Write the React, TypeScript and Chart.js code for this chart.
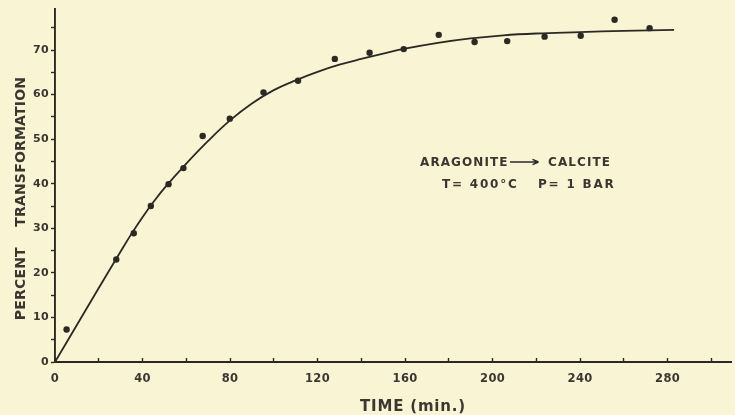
import React, { useEffect, useRef } from "react";
import { Chart, registerables } from "chart.js";

Chart.register(...registerables);

// Measured points (time in min, percent transformation)
const pointTimes = [5.3, 28, 36, 43.8, 51.9, 58.7, 67.5, 79.9, 95.3, 111.1, 127.9, 143.8, 159.4, 175.4, 191.8, 206.7, 223.8, 240.3, 255.8, 271.8];
const pointPercents = [7.3, 23.0, 28.9, 35.0, 39.9, 43.5, 50.7, 54.6, 60.5, 63.1, 68.0, 69.4, 70.2, 73.4, 71.8, 72.0, 73.0, 73.2, 76.8, 74.9];

// Drawn smooth curve
const curveTimes = [0, 10, 20, 30, 35, 40, 45, 50, 60, 70, 80, 90, 100, 110, 120, 130, 140, 150, 160, 175, 190, 205, 220, 240, 260, 283];
const curvePercents = [0, 8.3, 16.6, 24.8, 28.8, 32.5, 35.9, 39.0, 44.5, 49.6, 54.2, 58.0, 61.0, 63.2, 65.1, 66.7, 68.0, 69.2, 70.3, 71.6, 72.6, 73.3, 73.7, 74.0, 74.3, 74.5];

const xLabelTicks = [0, 40, 80, 120, 160, 200, 240, 280];
const yLabelTicks = [0, 10, 20, 30, 40, 50, 60, 70];

const xAxisTitle = "TIME (min.)";
const yAxisTitle = "PERCENT    TRANSFORMATION";
const noteReactant = "ARAGONITE";
const noteProduct = "CALCITE";
const noteTemp = "T= 400°C";
const notePressure = "P= 1 BAR";

const PAPER = "#f9f4d4";
const INK = "#2b2924";
const TEXT = "#3b3630";
const FONT = "'DejaVu Sans', sans-serif";

const paperPlugin = {
  id: "paper",
  beforeDraw(chart: any) {
    const ctx = chart.ctx;
    ctx.save();
    ctx.fillStyle = PAPER;
    ctx.fillRect(0, 0, chart.width, chart.height);
    ctx.restore();
    ctx.letterSpacing = "0.3px";
  },
  afterDraw(chart: any) {
    const ctx = chart.ctx;
    ctx.save();
    ctx.fillStyle = TEXT;
    ctx.strokeStyle = INK;

    // y axis title
    ctx.save();
    ctx.letterSpacing = "0.2px";
    ctx.font = `bold 14px ${FONT}`;
    ctx.textAlign = "center";
    ctx.textBaseline = "alphabetic";
    ctx.translate(24.5, 198.5);
    ctx.rotate(-Math.PI / 2);
    ctx.fillText(yAxisTitle, 0, 0);
    ctx.restore();

    // x axis title
    ctx.save();
    ctx.letterSpacing = "0.8px";
    ctx.font = `bold 15px ${FONT}`;
    ctx.textAlign = "center";
    ctx.textBaseline = "alphabetic";
    ctx.fillText(xAxisTitle, 413, 411);
    ctx.restore();

    // annotation
    ctx.save();
    ctx.letterSpacing = "1.1px";
    ctx.font = `bold 12px ${FONT}`;
    ctx.textAlign = "left";
    ctx.textBaseline = "alphabetic";
    ctx.fillText(noteReactant, 420, 166);
    ctx.fillText(noteProduct, 548, 166);
    ctx.letterSpacing = "1.8px";
    ctx.fillText(noteTemp, 442, 188);
    ctx.fillText(notePressure, 538, 188);
    ctx.lineWidth = 1.4;
    ctx.beginPath();
    ctx.moveTo(510, 162);
    ctx.lineTo(538, 162);
    ctx.moveTo(538.5, 162);
    ctx.lineTo(532.5, 159.3);
    ctx.moveTo(538.5, 162);
    ctx.lineTo(532.5, 164.7);
    ctx.stroke();
    ctx.restore();

    ctx.restore();
  },
};

export default function App() {
  const canvasRef = useRef<HTMLCanvasElement | null>(null);

  useEffect(() => {
    document.body.style.margin = "0";
    document.body.style.background = PAPER;
    const canvas = canvasRef.current;
    if (!canvas) return;
    const chart = new Chart(canvas, {
      type: "scatter",
      data: {
        datasets: [
          {
            label: "curve",
            data: curveTimes.map((t, i) => ({ x: t, y: curvePercents[i] })),
            showLine: true,
            borderColor: INK,
            borderWidth: 1.8,
            pointRadius: 0,
            tension: 0.4,
            fill: false,
          },
          {
            label: "measured",
            data: pointTimes.map((t, i) => ({ x: t, y: pointPercents[i] })),
            showLine: false,
            pointRadius: 3.2,
            pointBackgroundColor: INK,
            pointBorderColor: INK,
            pointBorderWidth: 0,
          },
        ],
      },
      options: {
        animation: false,
        responsive: false,
        devicePixelRatio: 1,
        layout: { padding: { top: 9, left: 0, right: 0, bottom: 0 } },
        plugins: {
          legend: { display: false },
          tooltip: { enabled: false },
          title: { display: false },
        },
        scales: {
          x: {
            type: "linear",
            min: 0,
            max: 309,
            afterFit(scale: any) {
              scale.height = 53;
            },
            border: { display: true, color: INK, width: 1.9 },
            grid: {
              drawOnChartArea: false,
              drawTicks: true,
              tickLength: -4,
              tickColor: INK,
              tickWidth: 1.4,
            },
            ticks: {
              stepSize: 20,
              includeBounds: false,
              autoSkip: false,
              maxRotation: 0,
              padding: 14.6,
              color: TEXT,
              font: { family: FONT, size: 11.5, weight: "bold" },
              callback: (v: any) => (xLabelTicks.includes(Number(v)) ? String(v) : ""),
            },
            title: { display: false },
          },
          y: {
            type: "linear",
            min: 0,
            max: 79.2,
            afterFit(scale: any) {
              scale.width = 55;
            },
            border: { display: true, color: INK, width: 1.9 },
            grid: {
              drawOnChartArea: false,
              drawTicks: true,
              tickLength: 4,
              tickColor: INK,
              tickWidth: 1.4,
            },
            ticks: {
              stepSize: 5,
              includeBounds: false,
              autoSkip: false,
              padding: 2,
              color: TEXT,
              font: { family: FONT, size: 11, weight: "bold" },
              callback: (v: any) => (yLabelTicks.includes(Number(v)) ? String(v) : ""),
            },
            title: { display: false },
          },
        },
      },
      plugins: [paperPlugin],
    } as any);
    return () => chart.destroy();
  }, []);

  return (
    <div style={{ position: "absolute", left: 0, top: 0, width: 735, height: 415, background: PAPER }}>
      <canvas ref={canvasRef} width={735} height={415} style={{ display: "block", width: 735, height: 415 }} />
    </div>
  );
}
